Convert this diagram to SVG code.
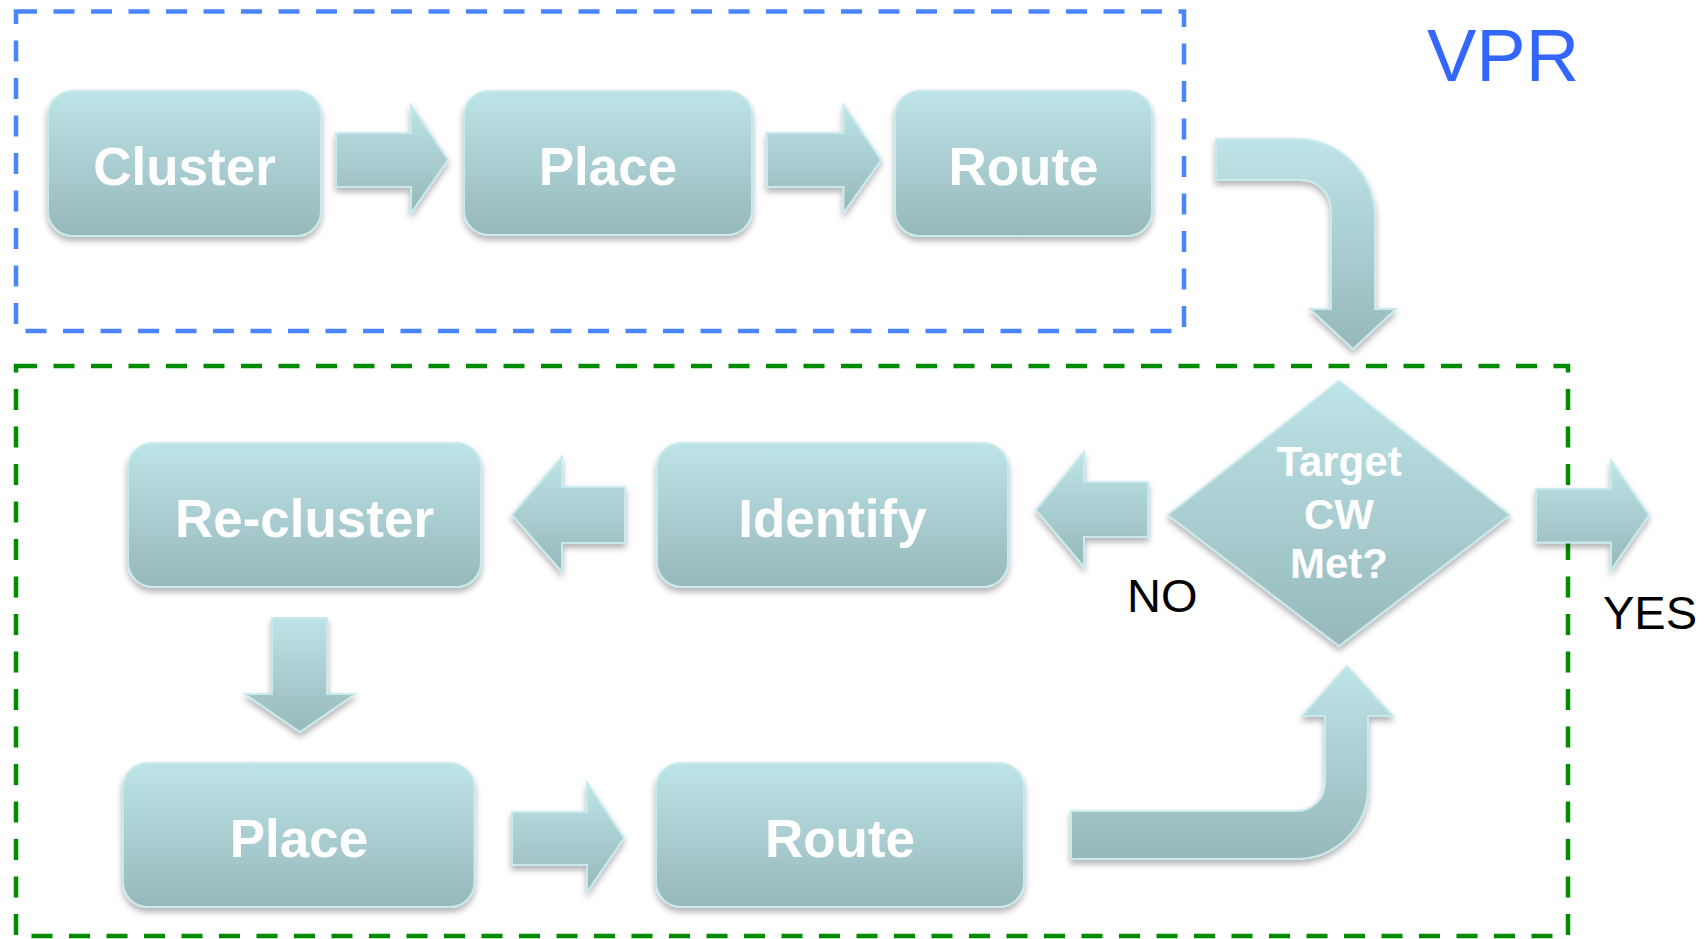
<svg xmlns="http://www.w3.org/2000/svg" width="1706" height="939" viewBox="0 0 1706 939">
<defs>
<linearGradient id="g" x1="0" y1="0" x2="0" y2="1">
<stop offset="0" stop-color="#bde4e8"/>
<stop offset="1" stop-color="#96b8ba"/>
</linearGradient>
<filter id="sh" x="-10%" y="-10%" width="120%" height="130%">
<feDropShadow dx="0" dy="4" stdDeviation="3" flood-color="#000" flood-opacity="0.3"/>
</filter>
<style>
.n{fill:url(#g);stroke:#c8e9ed;stroke-width:2;filter:url(#sh)}
.t{font-family:"Liberation Sans",Arial,sans-serif;font-weight:bold;fill:#fff;text-anchor:middle}
.b{font-size:53px}
.d{font-size:42px}
.lab{font-family:"Liberation Sans",Arial,sans-serif;font-size:47px;fill:#000}
.blue{fill:none;stroke:#4a85ff;stroke-width:4.5;stroke-dasharray:21 16.5}
.green{fill:none;stroke:#008c00;stroke-width:4.5;stroke-dasharray:21 16.5}
</style>
</defs>
<rect width="1706" height="939" fill="#fff"/>
<g id="regions">
<rect id="vpr-region" class="blue" x="16" y="11.5" width="1168" height="319.5"/>
<rect id="loop-region" class="green" x="16" y="366" width="1552" height="570"/>
<text x="1427" y="81" font-family="Liberation Sans, Arial, sans-serif" font-size="74" fill="#3366ff">VPR</text>
</g>
<g id="connectors">
<polygon class="n" points="336,133 411,133 411,105 448,160 411,213 411,187 336,187"/>
<polygon class="n" points="767,133 843.5,133 843.5,105 881,160 843.5,213 843.5,187 767,187"/>
<path class="n" d="M1216,139 H1297 A78,78 0 0 1 1375,217 V309 H1396 L1353,349 L1310,309 H1331 V210 A30,30 0 0 0 1301,180 H1216 Z"/>
<polygon class="n" points="1148,482 1084,482 1084,452 1036,510 1084,567 1084,537 1148,537"/>
<polygon class="n" points="625,487 562,487 562,457 512,515 562,572 562,543 625,543"/>
<polygon class="n" points="272,618 327,618 327,694 355,694 300,732 245,694 272,694"/>
<polygon class="n" points="512,812 587,812 587,783 624,838 587,892 587,865 512,865"/>
<path class="n" d="M1071,811 H1297 A28,28 0 0 0 1325,783 V716 H1302 L1347,666 L1393,716 H1368 V787 A72,72 0 0 1 1296,859 H1071 Z"/>
<polygon class="n" points="1536,489 1611,489 1611,461 1649,515 1611,570 1611,542.5 1536,542.5"/>
<text class="lab" x="1127" y="612">NO</text>
<text class="lab" x="1603" y="629">YES</text>
</g>
<g id="cluster">
<rect class="n" x="48" y="91" width="273" height="145" rx="25"/>
<text class="t b" x="184.5" y="185">Cluster</text>
</g>
<g id="place1">
<rect class="n" x="464" y="91" width="288" height="144" rx="25"/>
<text class="t b" x="608" y="185">Place</text>
</g>
<g id="route1">
<rect class="n" x="895" y="91" width="257" height="145" rx="25"/>
<text class="t b" x="1023.5" y="185">Route</text>
</g>
<g id="target">
<polygon class="n" points="1339,381 1510,515 1339,646 1168,515"/>
<text class="t d" x="1339" y="476">Target</text>
<text class="t d" x="1339" y="529">CW</text>
<text class="t d" x="1339" y="578">Met?</text>
</g>
<g id="identify">
<rect class="n" x="657" y="443" width="351" height="144" rx="25"/>
<text class="t b" x="832.5" y="537">Identify</text>
</g>
<g id="recluster">
<rect class="n" x="128" y="443" width="353" height="144" rx="25"/>
<text class="t b" x="304.5" y="537">Re-cluster</text>
</g>
<g id="place2">
<rect class="n" x="123" y="763" width="351.5" height="144" rx="25"/>
<text class="t b" x="299" y="857">Place</text>
</g>
<g id="route2">
<rect class="n" x="656" y="763" width="368" height="144" rx="25"/>
<text class="t b" x="840" y="857">Route</text>
</g>
</svg>
